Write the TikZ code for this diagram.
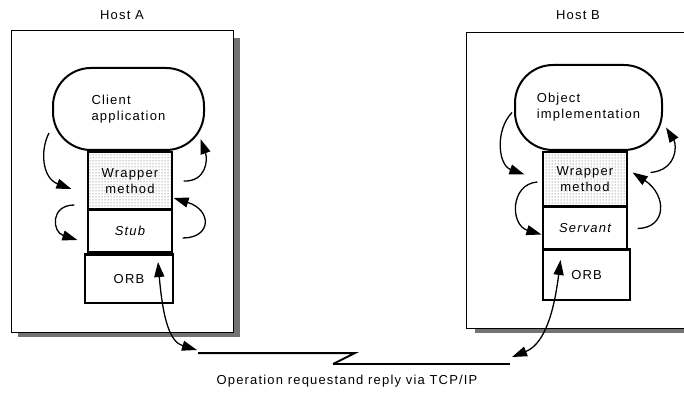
\documentclass[tikz,border=0pt]{standalone}
\usepackage{fontspec}
\setmainfont{Liberation Sans}[LetterSpace=9]
\usetikzlibrary{arrows.meta,patterns}
\begin{document}
\begin{tikzpicture}[x=1pt,y=-1pt,
  every node/.style={font=\fontsize{13}{16}\selectfont,inner sep=0pt},
  hostbox/.style={draw,line width=1.2pt,fill=white},
  blob/.style={draw,line width=2pt,rounded corners=38pt,fill=white,align=left},
  layer/.style={draw,line width=1.2pt,fill=white,minimum width=84pt,align=center},
  wrap/.style={layer,preaction={fill=white},pattern=dots,pattern color=black!70},
  shade/.style={fill=black!55},
  sep/.style={line width=2.6pt},
  arr/.style={line width=1.3pt,-{Triangle[length=15pt,width=10pt]}},
  darr/.style={line width=1.3pt,{Triangle[length=15pt,width=10pt]}-{Triangle[length=15pt,width=10pt]}}]
\useasboundingbox (0,0) rectangle (684,395);

% titles
\node (tA) at (122,15) {Host A};
\node (tB) at (578,15) {Host B};

% host boxes
\node[minimum width=221pt,minimum height=301pt] (hostA) at (122.5,181.5) {};
\node[minimum width=223pt,minimum height=295pt] (hostB) at (578.5,180.5) {};
\fill[shade] ([shift={(0,7)}]hostA.north east) rectangle ([shift={(7,5)}]hostA.south east);
\fill[shade] ([shift={(6,0)}]hostA.south west) rectangle ([shift={(7,5)}]hostA.south east);
\fill[shade] ([shift={(8,0)}]hostB.south west) rectangle ([shift={(10,5)}]hostB.south east);
\draw[hostbox] (hostA.north west) rectangle (hostA.south east);
\draw[hostbox] (hostB.north west) rectangle (hostB.south east);

% Host A stack
\node[blob,minimum width=151pt,minimum height=82pt] (client) at (128.5,109) {Client\\application};
\node[wrap,minimum height=58pt] (wrapA) at (130,181) {Wrapper\\method};
\node[layer,minimum height=42pt] (stub) at (130,231) {\itshape Stub};
\node[layer,minimum width=88pt,minimum height=48pt] (orbA) at (129,279) {ORB};
\draw[sep] (stub.north west) -- (stub.north east);
\draw[sep] (stub.south west) -- (stub.south east);
\draw[sep] (orbA.north west) -- (orbA.north east);

% Host B stack
\node[blob,minimum width=147pt,minimum height=85pt] (obj) at (588.5,107.5) {Object\\implementation};
\node[wrap,minimum height=55pt] (wrapB) at (585,179.5) {Wrapper\\method};
\node[layer,minimum height=43pt] (servant) at (585,228.5) {\itshape Servant};
\node[layer,minimum width=87pt,minimum height=50pt] (orbB) at (586.5,275) {ORB};
\draw[sep] (servant.north west) -- (servant.north east);
\draw[sep] (orbB.north west) -- (orbB.north east);

% Host A call arrows
\draw[arr] ([shift={(-3,24)}]client.west) .. controls (40,150) and (42,178) .. ([shift={(-16,8)}]wrapA.west);
\draw[arr] ([shift={(11,0)}]wrapA.east) .. controls (206,182) and (208,160) .. ([shift={(72,-12)}]client.south);
\draw[arr] ([shift={(-13,-26)}]stub.west) .. controls (50,205) and (52,232) .. ([shift={(-10,9)}]stub.west);
\draw[arr] ([shift={(10,7)}]stub.east) .. controls (212,238) and (212,210) .. ([shift={(1,17)}]wrapA.east);

% Host B call arrows
\draw[arr] ([shift={(-2,5)}]obj.west) .. controls (495,130) and (498,165) .. ([shift={(-18,-5)}]wrapB.west);
\draw[arr] ([shift={(23,-7)}]wrapB.east) .. controls (677,170) and (677,145) .. ([shift={(3,20)}]obj.east);
\draw[arr] ([shift={(-5,2.5)}]wrapB.west) .. controls (510,184) and (510,225) .. ([shift={(-1,6)}]servant.west);
\draw[arr] ([shift={(10,0)}]servant.east) .. controls (667,228) and (667,195) .. ([shift={(5,-7)}]wrapB.east);

% network
\coordinate (netA) at (197,350);
\coordinate (netB) at (512,357);
\draw[line width=2pt] (198,353) -- (355,353) -- (333,364);
\draw[line width=1.3pt] (333,364) -- (510,364);
\draw[darr] (netA) .. controls (170,342) and (163,320) .. ([shift={(29,-17)}]orbA.center);
\draw[darr] (netB) .. controls (542,345) and (553,320) .. ([shift={(-26,-15)}]orbB.center);

\node (cap) at (347,381) {Operation requestand reply via TCP/IP};
\end{tikzpicture}
\end{document}
